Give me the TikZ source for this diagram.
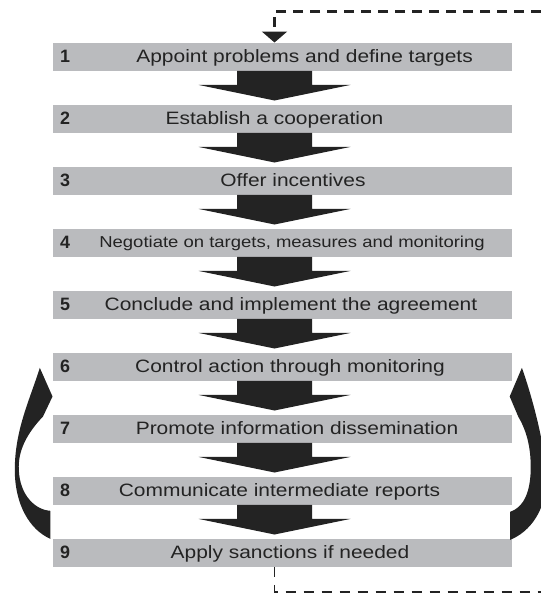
\documentclass[tikz,border=0pt]{standalone}
\usepackage{fontspec}
\setmainfont{Liberation Sans}
\usetikzlibrary{calc,arrows.meta}
\definecolor{bargray}{RGB}{186,187,190}
\definecolor{inkgray}{RGB}{35,35,35}
\newcommand{\wide}[1]{\scalebox{1.17}[1]{#1}}
\begin{document}
\begin{tikzpicture}[x=1pt,y=-1pt,
	stepbar/.style={fill=bargray,minimum width=459.3pt,minimum height=28pt,inner sep=0pt},
	steptext/.style={anchor=base,inner sep=0pt,text=inkgray,font=\fontsize{17.9}{20}\selectfont},
	smalltext/.style={steptext,font=\fontsize{15.8}{18}\selectfont},
	stepnum/.style={steptext,font=\fontsize{17.9}{20}\selectfont\bfseries},
	blockarrow/.style={fill=inkgray},
	loopline/.style={inkgray,line width=2.5pt,dash pattern=on 10pt off 7pt},
	backline/.style={inkgray,line width=1.6pt,dash pattern=on 10pt off 8pt}]
		\useasboundingbox (0,0) rectangle (541,595);
		\clip (0,0) rectangle (541,595);
		\coordinate (axis) at (274.5,0);
		% the nine steps
		\foreach \i in {1,...,9}{
			\node[stepbar] (s\i) at (282.35,{56.7+62*(\i-1)}) {};
			\node[stepnum] (n\i) at (65,{62.3+62*(\i-1)}) {\i};
		}
		\node[steptext] (t1) at (304.6,62.3) {\wide{Appoint problems and define targets}};
		\node[steptext] (t2) at (274.5,124.3) {\wide{Establish a cooperation}};
		\node[steptext] (t3) at (293,186.3) {\wide{Offer incentives}};
		\node[smalltext] (t4) at (292,247.6) {\wide{Negotiate on targets, measures and monitoring}};
		\node[steptext] (t5) at (291,310.3) {\wide{Conclude and implement the agreement}};
		\node[steptext] (t6) at (290,372.3) {\wide{Control action through monitoring}};
		\node[steptext] (t7) at (297,434.3) {\wide{Promote information dissemination}};
		\node[steptext] (t8) at (279.5,496.3) {\wide{Communicate intermediate reports}};
		\node[steptext] (t9) at (290,558.3) {\wide{Apply sanctions if needed}};
		% block arrows between the steps
		\foreach \i [evaluate=\i as \j using int(\i+1)] in {1,...,8}
			\fill[blockarrow] ($(s\i.south -| axis)+(-37.5,0)$) -- ++(75,0) -- ++(0,14) -- ++(38.5,0)
				-- ($(s\j.north -| axis)+(0,-4)$) -- ($(s\i.south -| axis)+(-76,14)$) -- ++(38.5,0) -- cycle;
		% loop back to the start
		\coordinate (loopin) at (541,11.7);
		\coordinate (loopout) at (541,591.7);
		\draw[loopline,-{Triangle[width=25pt,length=11pt]}] (loopin) -| (s1.north -| axis);
		\draw[backline] (s9.south -| axis) |- (loopout);
		% curved arrows from 9 back to 6
		\fill[blockarrow,shift={(s9.north west)}] (-2.2,0.3)
			.. controls (-22.7,-8.7) and (-37.7,-33.7) .. (-37.7,-68.7)
			.. controls (-37.7,-108.7) and (-22.7,-138.7) .. (-12.7,-170.7)
			-- (0,-142) -- (-9.5,-122)
			.. controls (-24.7,-106) and (-34.7,-88.7) .. (-33.7,-68.7)
			.. controls (-32.7,-43.7) and (-17.7,-28.7) .. (-2.2,-27.7) -- cycle;
		\fill[blockarrow,shift={(s9.north east)}] (-2,1.3)
			.. controls (18,-6.7) and (34,-28.7) .. (34,-58.7)
			.. controls (34,-88.7) and (21,-138.7) .. (9.7,-170.7)
			-- (-2.5,-142) -- (6,-122)
			.. controls (13,-110) and (19,-93.7) .. (18.5,-68.7)
			.. controls (18,-43.7) and (10,-30.7) .. (-2,-26.7) -- cycle;
	\end{tikzpicture}
\end{document}
